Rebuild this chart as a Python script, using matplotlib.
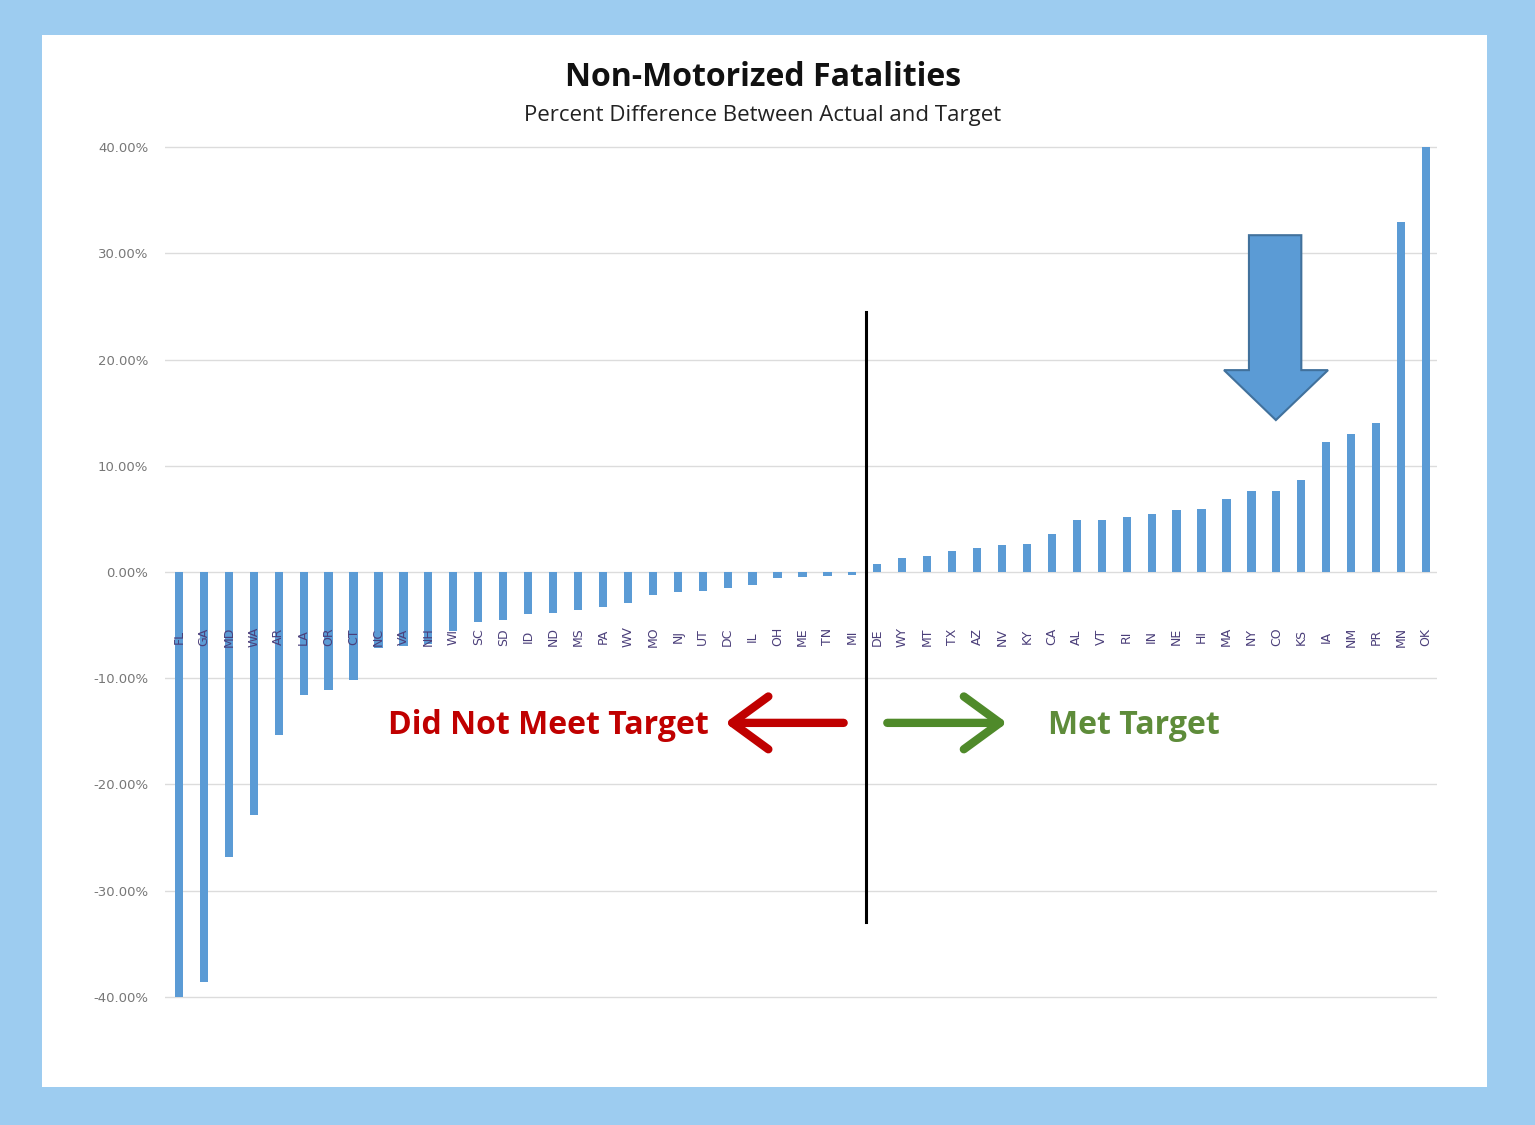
import matplotlib
matplotlib.use("Agg")
import matplotlib.pyplot as plt
from matplotlib.patches import Rectangle, Polygon
from matplotlib.ticker import FuncFormatter

states = ["FL", "GA", "MD", "WA", "AR", "LA", "OR", "CT", "NC", "VA", "NH", "WI", "SC", "SD",
          "ID", "ND", "MS", "PA", "WV", "MO", "NJ", "UT", "DC", "IL", "OH", "ME", "TN", "MI",
          "DE", "WY", "MT", "TX", "AZ", "NV", "KY", "CA", "AL", "VT", "RI", "IN", "NE", "HI",
          "MA", "NY", "CO", "KS", "IA", "NM", "PR", "MN", "OK"]
values = [-40.0, -38.6, -26.8, -22.9, -15.3, -11.6, -11.1, -10.2, -7.2, -7.0, -6.8, -5.6, -4.7, -4.5,
          -4.0, -3.9, -3.6, -3.3, -2.9, -2.2, -1.9, -1.8, -1.5, -1.2, -0.6, -0.5, -0.4, -0.3,
          0.8, 1.3, 1.5, 2.0, 2.3, 2.5, 2.6, 3.6, 4.9, 4.9, 5.2, 5.5, 5.8, 5.9,
          6.9, 7.6, 7.6, 8.7, 12.2, 13.0, 14.0, 32.9, 40.0]
yticks = [-40, -30, -20, -10, 0, 10, 20, 30, 40]

title = "Non-Motorized Fatalities"
subtitle = "Percent Difference Between Actual and Target"

W, H = 1535, 1125
fig = plt.figure(figsize=(W / 100, H / 100), dpi=100)
fig.patch.set_facecolor("#9DCCF0")
fig.patches.append(Rectangle((42 / W, 1 - 1087 / H), (1487 - 42) / W, (1087 - 35) / H,
                             transform=fig.transFigure, facecolor="white", edgecolor="none", zorder=-10))

ax = fig.add_axes([165 / W, 1 - 999 / H, (1437 - 165) / W, (999 - 145) / H])
ax.set_zorder(2)
ax.set_facecolor("none")
x = list(range(len(states)))
ax.bar(x, values, width=0.33, color="#5B9BD5", zorder=3)
ax.set_ylim(-40.19, 40.19)
ax.set_xlim(-0.56, 50.44)
ax.set_yticks(yticks)
ax.yaxis.set_major_formatter(FuncFormatter(lambda v, p: f"{v:.2f}%"))
ax.tick_params(axis="y", length=0, pad=12, labelsize=9.5, labelcolor="#777777")
ax.set_xticks([])
for s in ax.spines.values():
    s.set_visible(False)
ax.grid(axis="y", color="#dcdcdc", linewidth=1.0, zorder=0)

for i, s in enumerate(states):
    ax.text(i, -6.1, s, rotation=90, ha="center", va="center", fontsize=9,
            color="#4B3F7A", family="DejaVu Sans", zorder=4)

# divider line
ax.plot([27.55, 27.55], [24.5, -32.9], color="black", linewidth=2.2, zorder=5)

# annotation arrows and labels
ax.annotate("", xy=(21.9, -14.2), xytext=(26.65, -14.2),
            arrowprops=dict(arrowstyle="->,head_length=1.3,head_width=0.95", color="#C00000", lw=6,
                            mutation_scale=20, shrinkA=0, shrinkB=0), zorder=5)
ax.annotate("", xy=(33.2, -14.2), xytext=(28.4, -14.2),
            arrowprops=dict(arrowstyle="->,head_length=1.3,head_width=0.95", color="#4F8A2A", lw=6,
                            mutation_scale=20, shrinkA=0, shrinkB=0), zorder=5)
ax.text(14.8, -14.45, "Did Not Meet Target", ha="center", va="center", fontsize=23,
        fontweight="bold", color="#C00000", family="Open Sans", zorder=5)
ax.text(38.3, -14.45, "Met Target", ha="center", va="center", fontsize=23,
        fontweight="bold", color="#5E8C3A", family="Open Sans", zorder=5)

# big blue down arrow
arrow = Polygon([(42.9, 31.7), (45.0, 31.7), (45.0, 19.0), (46.07, 19.0), (43.98, 14.3),
                 (41.9, 19.0), (42.9, 19.0)], closed=True, facecolor="#5B9BD5",
                edgecolor="#41719C", linewidth=1.5, zorder=6)
ax.add_patch(arrow)

fig.text(763 / W, 1 - 77 / H, title, ha="center", va="center", fontsize=23,
         fontweight="bold", family="Open Sans", color="#111111")
fig.text(763 / W, 1 - 115 / H, subtitle, ha="center", va="center", fontsize=16,
         family="Open Sans", color="#222222")

fig.savefig("out.png", dpi=100, facecolor=fig.get_facecolor())
